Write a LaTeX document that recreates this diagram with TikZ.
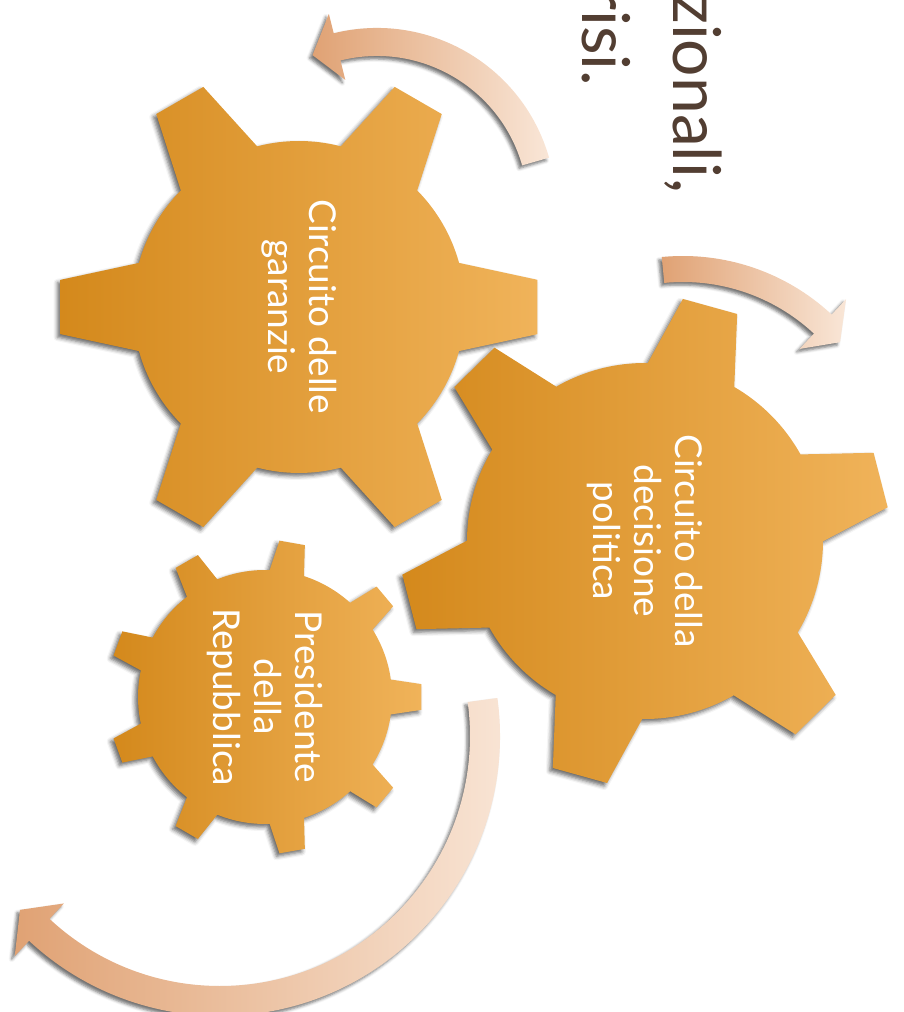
\documentclass[tikz,border=0pt]{standalone}
\usepackage{fontspec}
\setmainfont{Lato}
\usetikzlibrary{shadows.blur,positioning}

\definecolor{gear-dark}{RGB}{212,137,28}
\definecolor{gear-light}{RGB}{240,179,90}
\definecolor{arrow-dark}{RGB}{224,162,116}
\definecolor{arrow-light}{RGB}{249,230,215}
\definecolor{title-brown}{RGB}{82,62,50}

% gear: centre, teeth, first tooth angle, body radius, tip radius, half angle at base, half angle at tip
\newcommand{\gearshape}[7]{%
  \path[gear, shift={(#1)}] ({#3-#6}:#4)
    \foreach \i [evaluate=\i as \t using #3+(\i-1)*360/#2] in {1,...,#2}{
      -- ({\t-#6}:#4) -- ({\t-#7}:#5) -- ({\t+#7}:#5) -- ({\t+#6}:#4)
      arc[start angle={\t+#6}, end angle={\t+360/#2-#6}, radius=#4]
    } -- cycle;}

% curved arrow: centre, radius, half width, tail angle, head angle, tip angle, head half width
\newcommand{\turnarrow}[7]{%
  \path[arrowband, shift={(#1)}] ({#4}:{#2+#3})
    arc[start angle=#4, end angle=#5, radius={#2+#3}]
    -- ({#5}:{#2+#7}) -- ({#6}:#2) -- ({#5}:{#2-#7}) -- ({#5}:{#2-#3})
    arc[start angle=#5, end angle=#4, radius={#2-#3}] -- cycle;}

\begin{document}
\begin{tikzpicture}[x=1pt, y=1pt,
    gear/.style={left color=gear-dark, right color=gear-light,
      blur shadow={shadow xshift=-3pt, shadow yshift=-3pt, shadow blur radius=4pt, shadow opacity=60}},
    arrowband/.style={left color=arrow-dark, right color=arrow-light,
      blur shadow={shadow xshift=-3pt, shadow yshift=-3pt, shadow blur radius=3pt, shadow opacity=55}},
    gearlabel/.style={text=white, align=center, rotate=-90, font=\fontsize{37}{41}\selectfont},
    titleline/.style={text=title-brown, rotate=-90, anchor=base west, inner sep=0pt, font=\fontsize{66}{80}\selectfont}]

    \clip (0,0) rectangle (904,1012);

    % Title (cut at the top edge)
    \node[titleline] (title1) at (673,1018) {zionali,};
    \node[titleline] (title2) at (582,1026) {risi.};

    % Arrows
    \turnarrow{377,805}{165}{14}{16}{104}{113}{34}
    \turnarrow{683,538}{205}{13}{95.6}{47}{40}{34}
    \turnarrow{220,276}{265}{15}{7.8}{-133}{-139}{36}

    % Gears
    \gearshape{299,705}{6}{0}{166}{240}{15.4}{6.5}
    \gearshape{265,315}{9}{0}{127}{157}{7.9}{4.7}
    \gearshape{645,471}{6}{14.5}{178}{245}{14.6}{6.6}

    % Labels
    \node[gearlabel] (garanzie) at (299,705) {Circuito delle\\garanzie};
    \node[gearlabel] (decisione) at (645,471) {Circuito della\\decisione\\politica};
    \node[gearlabel] (presidente) at (265,315) {Presidente\\della\\Repubblica};
\end{tikzpicture}
\end{document}
